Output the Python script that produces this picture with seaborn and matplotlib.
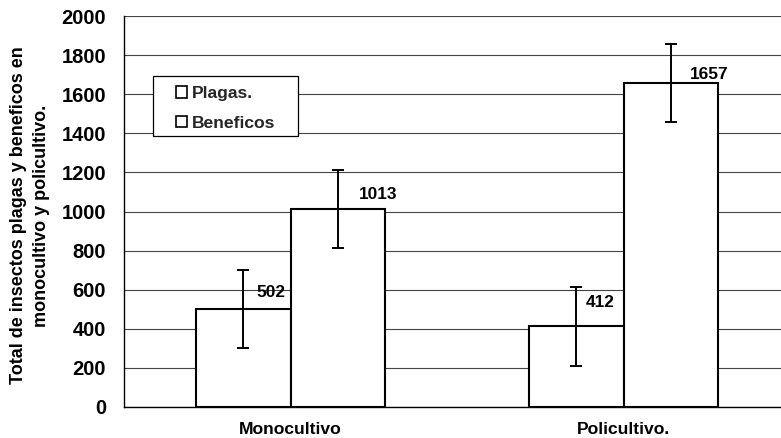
import matplotlib
matplotlib.use("Agg")
import matplotlib.pyplot as plt
import seaborn as sns
import pandas as pd
from matplotlib.patches import Rectangle
from matplotlib.ticker import FixedLocator, MultipleLocator

# ---- data ----
sistemas = ["Monocultivo", "Policultivo."]
grupos = ["Plagas.", "Beneficos"]
plagas = [502, 412]
beneficos = [1013, 1657]
err_plagas = [200, 200]
err_beneficos = [200, 200]
ylabel = "Total de insectos plagas y beneficos en\nmonocultivo y policultivo."

df = pd.DataFrame({
    "Sistema": sistemas * 2,
    "Grupo": [grupos[0]] * 2 + [grupos[1]] * 2,
    "Total": plagas + beneficos,
})
errs = {grupos[0]: err_plagas, grupos[1]: err_beneficos}

sns.set_theme(style="white")
plt.rcParams["font.family"] = ["Liberation Sans", "DejaVu Sans"]
plt.rcParams["font.weight"] = "bold"

fig = plt.figure(figsize=(7.81, 4.38), dpi=100)
W, H = 781, 438
ax = fig.add_axes([124 / W, 31 / H, 666 / W, 391 / H])

sns.barplot(data=df, x="Sistema", y="Total", hue="Grupo", order=sistemas,
            hue_order=grupos, palette=["white", "white"], edgecolor="black",
            linewidth=1.5, width=0.57, gap=0, errorbar=None, legend=False,
            saturation=1, ax=ax, zorder=3)

ax.set_ylim(0, 2000)
ax.set_xlim(-0.5, 1.5)
ax.yaxis.set_major_locator(MultipleLocator(200))
ax.grid(axis="y", color="#444444", linewidth=0.8, zorder=0)
ax.set_axisbelow(True)
for s in ["top", "right"]:
    ax.spines[s].set_visible(False)
for s in ["left", "bottom"]:
    ax.spines[s].set_color("black")
    ax.spines[s].set_linewidth(1.0)

ax.tick_params(axis="y", which="major", direction="out", length=5, width=1,
               color="black", labelsize=14.5, pad=8)
ax.tick_params(axis="x", which="major", length=0, labelsize=12.6, pad=11)
ax.xaxis.set_minor_locator(FixedLocator([-0.5, 0.5, 1.5]))
ax.tick_params(axis="x", which="minor", direction="out", length=5, width=1,
               color="black")
for lab in ax.get_yticklabels() + ax.get_xticklabels():
    lab.set_fontweight("bold")
    lab.set_color("black")
ax.set_xlabel("")
ax.set_ylabel(ylabel, fontsize=13, fontweight="bold", color="black",
              linespacing=1.45, va="center")
ax.yaxis.set_label_coords(-0.141, 0.49)

# error bars and value labels
offsets = {grupos[0]: [(28, 16), (24, 24)], grupos[1]: [(40, 14), (38, 9)]}
for g, cont in zip(grupos, ax.containers):
    for i, bar in enumerate(cont):
        cx = bar.get_x() + bar.get_width() / 2
        h = bar.get_height()
        ax.errorbar(cx, h, yerr=errs[g][i], color="black", elinewidth=1.4,
                    capsize=4.3, capthick=1.4, zorder=5)
        dx, dy = offsets[g][i]
        ax.annotate(f"{int(h)}", (cx, h), xytext=(dx, dy),
                    textcoords="offset pixels", ha="center", va="center",
                    fontsize=12.4, fontweight="bold", color="black", zorder=6)

# legend
box = Rectangle(((153 - 124) / 666, (407 - 136) / 391), 145 / 666, 60 / 391,
                transform=ax.transAxes, facecolor="white", edgecolor="black",
                linewidth=0.9, zorder=7)
ax.add_patch(box)
handles = [Rectangle((0, 0), 1, 1, facecolor="white", edgecolor="black",
                     linewidth=1.2) for _ in grupos]
leg = ax.legend(handles, grupos, loc="upper left",
                bbox_to_anchor=((176 - 124) / 666, (407 - 86) / 391),
                frameon=False, borderpad=0, borderaxespad=0,
                handlelength=0.62, handleheight=0.62, handletextpad=0.3,
                labelspacing=0.85, prop={"size": 12.6, "weight": "bold"})
leg.set_zorder(8)

fig.savefig("out.png", dpi=100)
